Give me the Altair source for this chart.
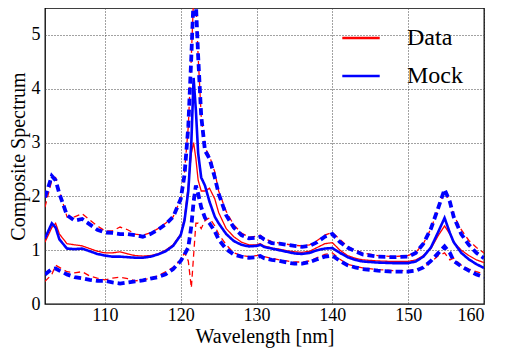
import altair as alt
import pandas as pd

wavelength = [102.1, 103, 103.5, 104, 105, 106, 107, 108, 109, 110, 111, 112, 113, 114, 115,
              116, 117, 118, 119, 120, 120.5, 121, 121.4, 121.7, 122, 122.3, 122.7, 123.2,
              123.8, 124.5, 125, 126, 127, 128, 129, 130, 130.5, 131, 132, 133, 134, 135,
              136, 137, 138, 139, 140, 141, 142, 143, 144, 146, 148, 150, 151, 152, 153,
              154, 154.8, 155.5, 156, 157, 158, 159, 160]

data_mean = [1.15, 1.42, 1.5, 1.3, 1.12, 1.1, 1.08, 1.03, 0.98, 0.95, 0.95, 0.97, 0.93, 0.9, 0.89,
             0.9, 0.93, 1.0, 1.1, 1.3, 1.6, 2.2, 2.8, 3.0, 2.7, 2.3, 2.1, 2.1,
             2.15, 1.95, 1.7, 1.4, 1.25, 1.15, 1.1, 1.1, 1.12, 1.08, 1.04, 1.02, 0.99, 0.97,
             0.96, 0.98, 1.05, 1.12, 1.14, 1.0, 0.9, 0.85, 0.82, 0.8, 0.79, 0.79, 0.82, 0.9, 1.03,
             1.28, 1.45, 1.3, 1.15, 1.0, 0.9, 0.82, 0.77]
data_upper = [1.8, 2.3, 2.35, 2.1, 1.62, 1.62, 1.68, 1.56, 1.45, 1.36, 1.36, 1.43, 1.38, 1.3, 1.28,
              1.32, 1.4, 1.5, 1.62, 1.95, 2.45, 3.3, 4.6, 5.7, 5.6, 4.6, 3.5, 2.9,
              2.75, 2.45, 2.1, 1.72, 1.47, 1.32, 1.24, 1.26, 1.28, 1.22, 1.16, 1.13, 1.11, 1.09,
              1.08, 1.1, 1.18, 1.28, 1.33, 1.2, 1.07, 1.0, 0.95, 0.9, 0.88, 0.9, 0.96, 1.12, 1.4,
              1.78, 2.1, 1.9, 1.65, 1.38, 1.18, 1.05, 0.95]
data_lower = [0.42, 0.55, 0.72, 0.68, 0.6, 0.58, 0.6, 0.52, 0.48, 0.45, 0.48, 0.5, 0.47, 0.43, 0.45,
              0.48, 0.52, 0.6, 0.68, 0.82, 0.95, 0.8, 0.3, 0.9, 1.5, 1.5, 1.4, 1.55,
              1.6, 1.45, 1.3, 1.1, 0.95, 0.9, 0.88, 0.9, 0.91, 0.88, 0.85, 0.82, 0.8, 0.78,
              0.78, 0.8, 0.86, 0.92, 0.95, 0.83, 0.74, 0.7, 0.67, 0.64, 0.62, 0.62, 0.64, 0.68, 0.78,
              0.9, 0.95, 0.82, 0.85, 0.72, 0.65, 0.6, 0.56]

mock_mean = [1.22, 1.5, 1.42, 1.2, 1.03, 1.02, 1.03, 0.98, 0.93, 0.9, 0.88, 0.88, 0.87, 0.86, 0.86,
             0.88, 0.92, 0.98, 1.08, 1.28, 1.55, 2.1, 3.0, 4.2, 3.6, 2.8, 2.35, 2.2,
             1.9, 1.62, 1.5, 1.3, 1.17, 1.1, 1.07, 1.08, 1.1, 1.06, 1.03, 1.0, 0.97, 0.94,
             0.93, 0.95, 1.0, 1.03, 1.04, 0.95, 0.87, 0.82, 0.79, 0.77, 0.76, 0.76, 0.79, 0.88, 1.05,
             1.35, 1.6, 1.32, 1.15, 0.95, 0.83, 0.74, 0.67]
mock_upper = [1.98, 2.38, 2.3, 2.05, 1.65, 1.55, 1.58, 1.48, 1.38, 1.33, 1.32, 1.3, 1.3, 1.28, 1.25,
              1.3, 1.38, 1.48, 1.62, 1.95, 2.4, 3.3, 4.6, 5.7, 5.6, 4.6, 3.5, 2.85,
              2.7, 2.35, 2.05, 1.65, 1.42, 1.28, 1.22, 1.23, 1.25, 1.2, 1.13, 1.12, 1.1, 1.08,
              1.06, 1.08, 1.15, 1.25, 1.3, 1.15, 1.05, 0.98, 0.92, 0.88, 0.87, 0.88, 0.95, 1.12, 1.4,
              1.8, 2.13, 1.9, 1.62, 1.3, 1.1, 0.95, 0.85]
mock_lower = [0.55, 0.65, 0.66, 0.62, 0.55, 0.5, 0.48, 0.45, 0.43, 0.43, 0.4, 0.38, 0.4, 0.42, 0.44,
              0.47, 0.5, 0.55, 0.65, 0.8, 0.92, 1.05, 1.45, 1.9, 2.2, 2.05, 1.8, 1.6,
              1.5, 1.35, 1.2, 1.02, 0.92, 0.88, 0.86, 0.87, 0.89, 0.85, 0.82, 0.8, 0.77, 0.75,
              0.75, 0.78, 0.83, 0.88, 0.9, 0.8, 0.72, 0.68, 0.65, 0.62, 0.6, 0.6, 0.62, 0.68, 0.8,
              0.95, 1.07, 0.95, 0.8, 0.7, 0.62, 0.55, 0.5]

rows = []
for series, band, vals in [
    ("Data", "mean", data_mean), ("Data", "upper", data_upper), ("Data", "lower", data_lower),
    ("Mock", "mean", mock_mean), ("Mock", "upper", mock_upper), ("Mock", "lower", mock_lower),
]:
    for w, v in zip(wavelength, vals):
        rows.append({"wl": w, "val": v, "series": series, "band": band,
                     "kind": "mean" if band == "mean" else "bound"})
df = pd.DataFrame(rows)

FONT = "Liberation Serif"

legend = alt.Legend(
    title=None, orient="none", legendX=296, legendY=10, symbolType="stroke",
    symbolSize=1400, symbolStrokeWidth=2.5, labelFontSize=24, labelFont=FONT,
    labelColor="#000", labelOffset=26, rowPadding=6,
)

axis_style = dict(
    labelFont=FONT, titleFont=FONT, labelFontSize=18, titleFontSize=20,
    labelColor="#000", titleColor="#000", titleFontWeight="normal",
    grid=True, gridColor="#444", gridDash=[1, 2], gridWidth=1,
    domain=False, ticks=False,
)

x = alt.X("wl:Q", scale=alt.Scale(domain=[102.1, 160], nice=False, zero=False),
          axis=alt.Axis(values=[110, 120, 130, 140, 150, 160], title="Wavelength [nm]",
                        labelPadding=2, titlePadding=2, **axis_style))
y = alt.Y("val:Q", scale=alt.Scale(domain=[0, 5.5], nice=False, zero=False),
          axis=alt.Axis(values=[0, 1, 2, 3, 4, 5], title="Composite Spectrum",
                        labelPadding=5, titlePadding=3, **axis_style))
color = alt.Color("series:N", scale=alt.Scale(domain=["Data", "Mock"], range=["#ff0000", "#0000ff"]),
                  legend=legend)

base = alt.Chart(df)


def layer(series, kind, width, dash):
    sel = base.transform_filter(
        f"datum.series == '{series}' && datum.kind == '{kind}'"
    )
    return sel.mark_line(clip=True, strokeWidth=width, strokeDash=dash).encode(
        x=x, y=y, color=color, detail="band:N"
    )


red_mean = layer("Data", "mean", 1.3, [1, 0])
red_bounds = layer("Data", "bound", 1.3, [6, 4])
blue_bounds = layer("Mock", "bound", 3.8, [7, 4])
blue_mean = layer("Mock", "mean", 2.6, [1, 0])

chart = alt.layer(red_mean, red_bounds, blue_bounds, blue_mean).properties(
    width=439, height=296,
    autosize=alt.AutoSizeParams(type="none"),
    padding={"left": 37, "top": 0, "right": 14, "bottom": 44},
).configure(font=FONT).configure_view(
    stroke="#000", strokeWidth=1.3
)

chart.save("out.html", embed_options={"renderer": "svg", "actions": False})
